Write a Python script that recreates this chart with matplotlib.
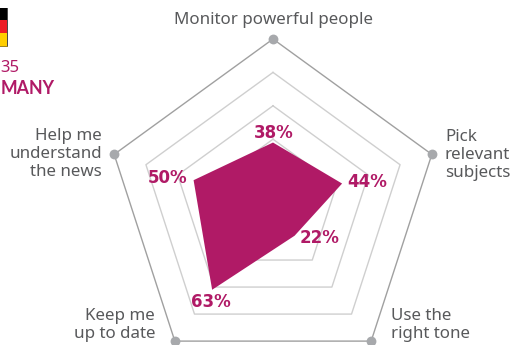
import numpy as np
import matplotlib
matplotlib.use("Agg")
import matplotlib.pyplot as plt
from matplotlib.patches import Rectangle

W, H = 513, 345
plt.rcParams["font.family"] = ["Noto Sans", "DejaVu Sans"]

categories = ["Monitor powerful people", "Pick\nrelevant\nsubjects", "Use the\nright tone",
              "Keep me\nup to date", "Help me\nunderstand\nthe news"]
values = [38, 43.5, 22, 62, 50]
value_labels = ["38%", "44%", "22%", "63%", "50%"]
rings = [40, 60, 80]
outer = 100

MAGENTA = "#b01a66"
GREY = "#58595b"

fig = plt.figure(figsize=(W / 100, H / 100), dpi=100, facecolor="white")


def fx(x):
    return x / W


def fy(y):
    return 1 - y / H


# centre of the pentagon (273, 206), radius 167 px
ax = fig.add_axes([fx(273 - 167), fy(206 + 167), 334 / W, 334 / H], projection="polar")
ax.set_theta_zero_location("N")
ax.set_theta_direction(-1)
ax.set_ylim(0, outer)
ax.axis("off")

angles = np.deg2rad(np.arange(5) * 72)
closed = np.append(angles, angles[0])

for r in rings:
    ax.plot(closed, [r] * 6, color="#cfcfcf", lw=1, clip_on=False, zorder=1)
ax.plot(closed, [outer] * 6, color="#a0a0a0", lw=1, clip_on=False, zorder=1)
ax.scatter(angles, [outer] * 5, s=50, color="#a7a9ac", clip_on=False, zorder=2, linewidths=0)
ax.fill(closed, values + values[:1], color=MAGENTA, lw=0, zorder=3)

# category labels, pixel anchors
label_pos = [(273.5, 20, "center", "center"), (445, 155, "left", "center"),
             (391, 325, "left", "center"), (155, 325, "right", "center"),
             (102, 154, "right", "center")]
for text, (x, y, ha, va) in zip(categories, label_pos):
    fig.text(fx(x), fy(y), text, ha=ha, va=va, fontsize=12.2, color=GREY, linespacing=1.15,
             multialignment=ha)

# value labels
value_pos = [(273.5, 133), (367, 182), (320, 238), (211, 302), (168, 178)]
for text, (x, y) in zip(value_labels, value_pos):
    fig.text(fx(x), fy(y), text, ha="center", va="center", fontsize=12, fontweight="bold",
             color=MAGENTA, family=["DejaVu Sans"], zorder=5)

# flag cropped at the left edge
fig.add_artist(Rectangle((fx(0), fy(20)), fx(7.5), 12 / H, transform=fig.transFigure, color="#000000", lw=0))
fig.add_artist(Rectangle((fx(0), fy(33)), fx(7.5), 13 / H, transform=fig.transFigure, color="#ee1c25", lw=0))
fig.add_artist(Rectangle((fx(0), fy(46)), fx(7.5), 13 / H, transform=fig.transFigure, color="#ffce00", lw=0))
fig.add_artist(Rectangle((fx(7), fy(46)), fx(1), 38 / H, transform=fig.transFigure, color="#4a4a4a", lw=0))
fig.add_artist(Rectangle((fx(0), fy(47)), fx(8), 1.5 / H, transform=fig.transFigure, color="#a08420", lw=0))

fig.text(fx(0.5), fy(68), "35", ha="left", va="center", fontsize=12, color=MAGENTA)
fig.text(fx(0.5), fy(89), "MANY", ha="left", va="center", fontsize=12.8, fontweight="bold",
         family=["Lato", "DejaVu Sans"], color=MAGENTA)

fig.savefig("out.png", dpi=100)
